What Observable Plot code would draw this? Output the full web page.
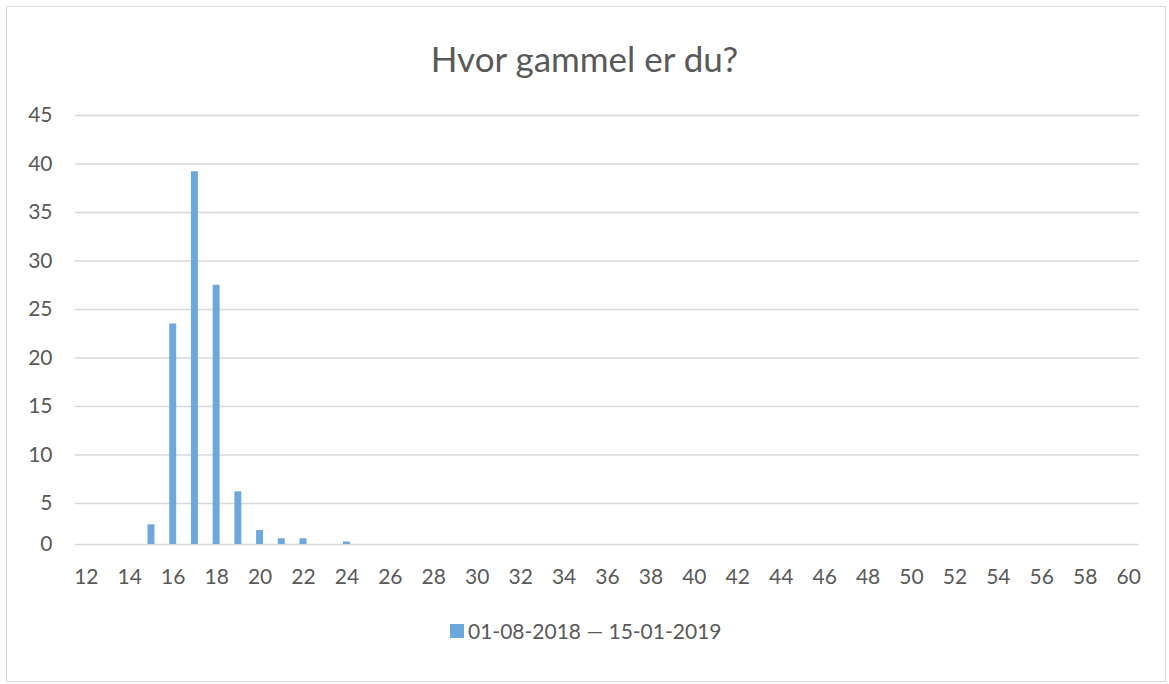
<!DOCTYPE html>
<html><head><meta charset="utf-8">
<script src="https://cdn.jsdelivr.net/npm/d3@7"></script>
<script src="https://cdn.jsdelivr.net/npm/@observablehq/plot@0.6"></script>
<style>
html,body{margin:0;padding:0;background:#fff;}
#wrap{position:relative;width:1169px;height:684px;overflow:hidden;font-family:Lato,"Open Sans",sans-serif;color:#595959;}
#frame{position:absolute;left:6px;top:6px;width:1160px;height:676px;border:1px solid #d9d9d9;box-sizing:border-box;}
#title{position:absolute;left:0;width:1169px;top:41px;text-align:center;font-size:35px;line-height:35px;}
#legend{position:absolute;left:450px;top:620px;height:21px;font-size:21px;line-height:21px;white-space:nowrap;display:flex;align-items:center;}
#legend .sw{display:inline-block;width:14px;height:14px;background:#6ca8dc;margin-right:4px;}
#chart{position:absolute;left:0;top:0;}
</style></head>
<body><div id="wrap"><div id="frame"></div><div id="title"></div><div id="chart"></div>
<div id="legend"><span class="sw"></span><span id="legtext"></span></div></div>
<script>
const categories = d3.range(12, 61);
const ages = [15, 16, 17, 18, 19, 20, 21, 22, 24];
const values = [2.4, 23.5, 39.2, 27.5, 6.2, 1.7, 0.7, 0.7, 0.3];
const yTicks = [0, 5, 10, 15, 20, 25, 30, 35, 40, 45];
const xTicks = categories.filter(d => d % 2 === 0);
const seriesName = "01-08-2018 — 15-01-2019";
const title = "Hvor gammel er du?";

document.getElementById("legtext").textContent = seriesName;
document.getElementById("title").textContent = title;

const data = ages.map((a, i) => ({age: a, value: values[i]}));

// the reference's first interval (0–5) is drawn shorter than the others
const k = 41 / 48.5;
const yTransform = v => v <= 5 ? v * k : 5 * k + (v - 5);

const chart = Plot.plot({
  width: 1169,
  height: 684,
  marginLeft: 75, marginRight: 30, marginTop: 115, marginBottom: 140,
  style: {fontFamily: "Lato, 'Open Sans', sans-serif", fontSize: "21px", color: "#595959", background: "transparent"},
  x: {type: "band", domain: categories, paddingInner: 0.68, paddingOuter: 0.34, align: 0.5, label: null},
  y: {type: "linear", transform: yTransform, domain: [0, yTransform(45)], label: null},
  marks: [
    Plot.gridY(yTicks, {stroke: "#d9d9d9", strokeOpacity: 1, strokeWidth: 1.3}),
    Plot.barY(data, {x: "age", y: "value", fill: "#6ca8dc"}),
    Plot.axisY(yTicks, {tickSize: 0, tickPadding: 23, label: null, fill: "#595959", fontSize: 21}),
    Plot.axisX(xTicks, {tickSize: 0, tickPadding: 25, label: null, fill: "#595959", fontSize: 21})
  ]
});
document.getElementById("chart").appendChild(chart);
</script></body></html>
